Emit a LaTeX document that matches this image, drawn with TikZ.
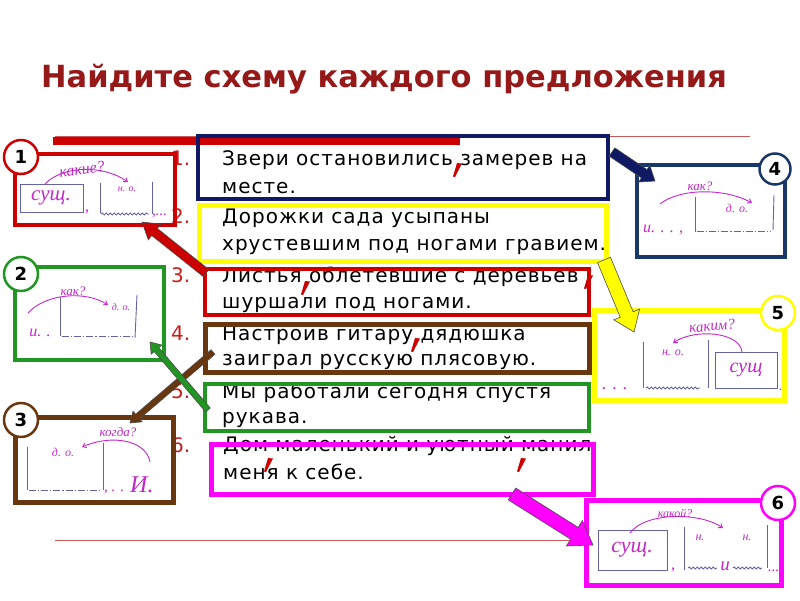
\documentclass[tikz,border=0pt]{standalone}
\usepackage{fontspec}
\setmainfont{DejaVu Sans}
\newfontfamily\hwfont{Liberation Serif}
\newfontfamily\sentfont{DejaVu Sans}[LetterSpace=5]
\usetikzlibrary{calc,decorations.pathmorphing,arrows.meta}
\definecolor{navyc}{RGB}{15,25,100}
\definecolor{yelc}{RGB}{255,255,0}
\definecolor{redc}{RGB}{204,0,0}
\definecolor{brownc}{RGB}{105,55,15}
\definecolor{greenc}{RGB}{34,150,34}
\definecolor{magc}{RGB}{255,0,255}
\definecolor{navy4}{RGB}{25,55,105}
\definecolor{hwc}{RGB}{195,40,200}
\definecolor{skc}{RGB}{100,100,165}
\definecolor{numc}{RGB}{200,30,30}
\definecolor{titlec}{RGB}{150,25,25}
\definecolor{thinred}{RGB}{205,90,90}
\newcommand\blockarrow[6]{%
 \coordinate (ba-h) at ($(#2)!#6!(#1)$);
 \filldraw[fill=#3, draw=black!70, line width=0.6pt, line join=miter]
   ($(#1)!#4!90:(#2)$) -- ($(ba-h)!#4!-90:(#1)$) -- ($(ba-h)!#5!-90:(#1)$) -- (#2)
   -- ($(ba-h)!#5!90:(#1)$) -- ($(ba-h)!#4!90:(#1)$) -- ($(#1)!#4!-90:(#2)$) -- cycle;}
\newcommand\redmark[2]{%
 \fill[redc] (#1,#2) -- (#1+5,#2+0.5) -- (#1-2,#2+14) -- (#1-4,#2+13.5) -- cycle;}
\tikzset{
 sent/.style={font=\sentfont\fontsize{20}{20}\selectfont, inner sep=0pt, anchor=base west, text=black},
 num/.style={font=\fontsize{20}{20}\selectfont, inner sep=0pt, anchor=base west, text=numc},
 sbox/.style={draw=#1, inner sep=0pt, outer sep=0pt, anchor=north west},
 numcircle/.style={circle, draw=#1, line width=2.5pt, fill=white, minimum size=34pt, inner sep=0pt, font=\bfseries\fontsize{18}{18}\selectfont},
 hw/.style={text=hwc, inner sep=0pt, font=\hwfont\itshape\fontsize{#1}{#1}\selectfont},
 hw/.default=10,
 sk/.style={draw=skc, line width=0.9pt},
 wav/.style={draw=skc, line width=0.9pt, decorate, decoration={snake, amplitude=1pt, segment length=4pt}},
 dd/.style={draw=skc, line width=0.9pt, dash pattern=on 7pt off 2pt on 1.2pt off 2pt},
 harc/.style={draw=hwc, line width=0.9pt, -{Straight Barb[length=3.5pt,width=5pt]}},
}
\begin{document}
\begin{tikzpicture}[x=1pt,y=-1pt]
\useasboundingbox[fill=white] (0,0) rectangle (800,600);
% title
\node[font=\bfseries\fontsize{30.5}{30.5}\selectfont, text=titlec, inner sep=0pt] (title) at (384,79) {Найдите схему каждого предложения};
% rules
\draw[thinred, line width=1pt] (55,136) -- (750,136);
\draw[thinred, line width=1pt] (55,540) -- (590,540);
\fill[redc] (53,137) rectangle (460,145);
% numbers
\node[num] (n1) at (171,165) {1.};
\node[num] (n2) at (171,223) {2.};
\node[num] (n3) at (171,282) {3.};
\node[num] (n4) at (171,340) {4.};
\node[num] (n5) at (171,398) {5.};
\node[num] (n6) at (171,452) {6.};
% sentences
\node[sent] (s1a) at (222,165) {Звери остановились замерев на};
\node[sent] (s1b) at (222,193) {месте.};
\node[sent] (s2a) at (222,223) {Дорожки сада усыпаны};
\node[sent] (s2b) at (222,250) {хрустевшим под ногами гравием.};
\node[sent] (s3a) at (222,282) {Листья облетевшие с деревьев};
\node[sent] (s3b) at (222,308) {шуршали под ногами.};
\node[sent] (s4a) at (222,340) {Настроив гитару дядюшка};
\node[sent] (s4b) at (222,365) {заиграл русскую плясовую.};
\node[sent] (s5a) at (222,398) {Мы работали сегодня спустя};
\node[sent] (s5b) at (222,423) {рукава.};
\node[sent] (s6a) at (223,451) {Дом маленький и уютный манил};
\node[sent] (s6b) at (223,479) {меня к себе.};
% red commas
\redmark{457}{163}
\redmark{305}{281}
\redmark{588}{275}
\redmark{415}{338}
\redmark{268}{458}
\redmark{521}{458}
% sentence boxes
\node[sbox=navyc, line width=4pt, minimum width=410pt, minimum height=63pt] (b1) at (198,136) {};
\node[sbox=yelc, line width=5pt, minimum width=407pt, minimum height=56pt] (b2) at (199,205) {};
\node[sbox=redc, line width=4pt, minimum width=384pt, minimum height=46pt] (b3) at (205,269) {};
\node[sbox=brownc, line width=5pt, minimum width=384pt, minimum height=48pt] (b4) at (205,324) {};
\node[sbox=greenc, line width=4pt, minimum width=384pt, minimum height=47pt] (b5) at (205,384) {};
\node[sbox=magc, line width=5pt, minimum width=382pt, minimum height=50pt] (b6) at (211,444) {};
% schema boxes
\node[sbox=redc, line width=3.5pt, minimum width=160pt, minimum height=71pt] (k1) at (15,154) {};
\node[sbox=greenc, line width=3.5pt, minimum width=149pt, minimum height=93pt] (k2) at (15,267) {};
\node[sbox=brownc, line width=5pt, minimum width=158pt, minimum height=85pt] (k3) at (15,417) {};
\node[sbox=navy4, line width=4pt, minimum width=148pt, minimum height=92pt] (k4) at (637,165) {};
\node[sbox=yelc, line width=5pt, minimum width=190pt, minimum height=90pt] (k5) at (594,310) {};
\node[sbox=magc, line width=5pt, minimum width=195pt, minimum height=85pt] (k6) at (586,500) {};
% schema 1
\draw[sk] (20,184) rectangle (83,212);
\node[hw=21] (h1a) at (51,198) {сущ.};
\node[hw=16] (h1b) at (87,212) {,};
\draw[sk] (100,183) -- (100,213);
\draw[sk] (152,182) -- (152,214);
\draw[wav] (101,214) -- (149,214);
\node[hw=15, anchor=base west] (h1c) at (152,215) {,...};
\node[hw=16, rotate=8] (h1d) at (82,169) {какие?};
\draw[harc] (45,184) .. controls (62,166) and (102,164) .. (128,182);
\node[hw=10] (h1e) at (127,189) {н. о.};
% schema 2
\draw[harc] (28,313) .. controls (45,294) and (85,290) .. (108,305);
\node[hw=13] (h2a) at (73,291) {как?};
\node[hw=10] (h2b) at (121,307) {д. о.};
\draw[sk] (60,297) -- (60,336);
\draw[sk] (137,295) -- (135,338);
\draw[dd] (62,336) -- (134,336);
\node[hw=16, anchor=base] (h2c) at (40,336) {и. .};
% schema 3
\draw[sk] (27,447) -- (27,490);
\draw[sk] (103,443) -- (103,490);
\draw[dd] (29,490) -- (101,490);
\node[hw=12] (h3a) at (63,452) {д. о.};
\node[hw=13] (h3b) at (118,432) {когда?};
\draw[harc] (150,462) .. controls (146,440) and (112,434) .. (82,447);
\node[hw=15, anchor=base west] (h3c) at (104,491) {, . .};
\node[hw=24, anchor=base west] (h3d) at (130,492) {И.};
% schema 4
\node[hw=13] (h4a) at (700,186) {как?};
\draw[harc] (660,204) .. controls (680,188) and (725,188) .. (752,203);
\node[hw=12] (h4b) at (737,208) {д. о.};
\draw[sk] (695,197) -- (695,232);
\draw[sk] (774,195) -- (773,230);
\draw[dd] (697,231) -- (771,231);
\node[hw=16, anchor=base west] (h4c) at (643,232) {и. . . ,};
% schema 5
\node[hw=18, anchor=base west] (h5a) at (602,389) {. . .};
\draw[sk] (643,342) -- (643,388);
\draw[sk] (708,340) -- (708,388);
\draw[wav] (646,388) -- (700,388);
\node[hw=12] (h5b) at (673,353) {н. о.};
\draw[sk] (715,352) rectangle (777,388);
\node[hw=20] (h5c) at (746,370) {сущ};
\node[hw=14, anchor=base west] (h5d) at (779,390) {.};
\node[hw=15, rotate=5] (h5e) at (712,326) {каким?};
\draw[harc] (742,352) .. controls (740,332) and (695,328) .. (673,343);
% schema 6
\draw[sk] (598,530) rectangle (667,570);
\node[hw=22] (h6a) at (632,550) {сущ.};
\node[hw=16] (h6b) at (673,570) {,};
\draw[sk] (684,527) -- (684,570);
\draw[sk] (767,525) -- (767,568);
\draw[wav] (688,568) -- (717,568);
\node[hw=19, anchor=base] (h6c) at (725,570) {и};
\draw[wav] (733,568) -- (762,568);
\node[hw=12] (h6d) at (700,538) {н.};
\node[hw=12] (h6e) at (747,538) {н.};
\node[hw=15, anchor=base west] (h6f) at (768,571) {...};
\node[hw=12] (h6g) at (675,513) {какой?};
\draw[harc] (630,533) .. controls (645,512) and (700,512) .. (723,528);
% circles
\node[numcircle=redc] (c1) at (21,157) {1};
\node[numcircle=greenc] (c2) at (21,274) {2};
\node[numcircle=brownc] (c3) at (21,420) {3};
\node[numcircle=navy4, minimum size=31pt] (c4) at (775,169) {4};
\node[numcircle=yelc] (c5) at (778,313) {5};
\node[numcircle=magc] (c6) at (778,503) {6};
% arrow end points
\coordinate (ar1) at (206,273); \coordinate (at1) at (142,222);
\coordinate (ar2) at (213,352); \coordinate (at2) at (130,423);
\coordinate (ar3) at (208,410); \coordinate (at3) at (150,342);
\coordinate (ar4) at (612,152); \coordinate (at4) at (655,181);
\coordinate (ar5) at (604,260); \coordinate (at5) at (634,332);
\coordinate (ar6) at (512,494); \coordinate (at6) at (593,545);
\blockarrow{ar1}{at1}{redc}{4.5pt}{10pt}{16pt}
\blockarrow{ar2}{at2}{brownc}{3pt}{7pt}{10pt}
\blockarrow{ar3}{at3}{greenc}{3pt}{7pt}{10pt}
\blockarrow{ar4}{at4}{navyc}{5pt}{10pt}{13pt}
\blockarrow{ar5}{at5}{yelc}{7pt}{14pt}{19pt}
\blockarrow{ar6}{at6}{magc}{7pt}{15pt}{22pt}
\end{tikzpicture}
\end{document}
